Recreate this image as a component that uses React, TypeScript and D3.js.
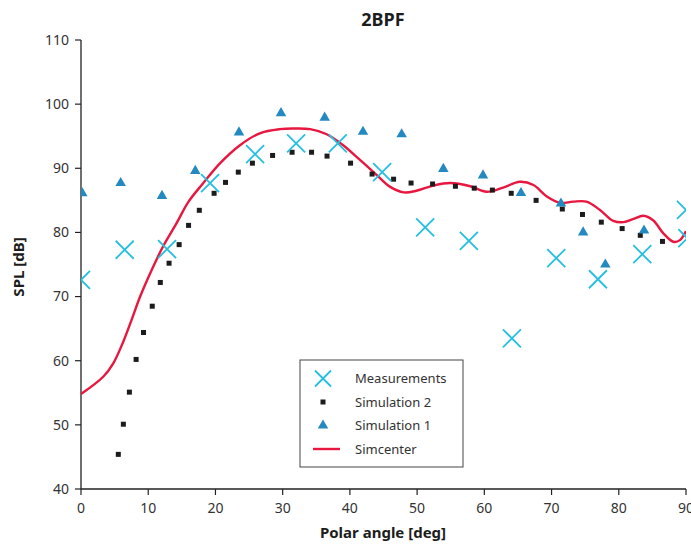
import React from "react";
import * as d3 from "d3";

const W = 691;
const H = 552;
const M = { left: 81, right: 5, top: 40, bottom: 63 };

const xTicks = [0, 10, 20, 30, 40, 50, 60, 70, 80, 90];
const yTicks = [40, 50, 60, 70, 80, 90, 100, 110];

const measAngle = [0, 6.5, 12.8, 19.2, 25.9, 32.0, 38.2, 44.8, 51.2, 57.7, 64.1, 70.7, 76.9, 83.5, 90.0, 90.2];
const measSPL = [72.6, 77.3, 77.4, 87.7, 92.2, 93.9, 93.9, 89.4, 80.8, 78.7, 63.5, 76.0, 72.7, 76.6, 83.5, 79.1];

const sim2Angle = [5.55, 6.3, 7.2, 8.2, 9.3, 10.6, 11.8, 13.1, 14.6, 16.0, 17.6, 19.8, 21.5, 23.4, 25.5, 28.5, 31.4, 34.3, 36.6, 40.1, 43.3, 46.5, 49.1, 52.3, 55.7, 58.5, 61.2, 64.0, 67.7, 71.6, 74.6, 77.4, 80.5, 83.2, 86.5];
const sim2SPL = [45.4, 50.1, 55.1, 60.2, 64.4, 68.5, 72.2, 75.2, 78.1, 81.1, 83.45, 86.1, 87.8, 89.4, 90.8, 92.0, 92.5, 92.5, 91.9, 90.8, 89.1, 88.3, 87.7, 87.55, 87.2, 86.9, 86.6, 86.1, 85.0, 83.65, 82.8, 81.6, 80.6, 79.55, 78.6];

const sim1Angle = [0.2, 5.9, 12.05, 17.0, 23.5, 29.75, 36.25, 41.95, 47.7, 53.9, 59.8, 65.45, 71.4, 74.7, 78.0, 83.75];
const sim1SPL = [86.1, 87.7, 85.7, 89.6, 95.6, 98.6, 97.9, 95.7, 95.3, 89.9, 88.9, 86.15, 84.5, 80.0, 75.0, 80.3];

const simcAngle = [0, 3.3, 4.8, 6.3, 7.5, 8.8, 10.5, 12.2, 14.2, 16.0, 18.2, 20.7, 23.65, 26.6, 29.6, 31.6, 34.1, 36.55, 39.0, 41.5, 44.0, 46.0, 48.0, 49.9, 52.4, 54.9, 57.9, 60.35, 62.8, 65.3, 67.3, 69.3, 71.3, 73.2, 75.2, 77.2, 79.2, 80.7, 82.2, 83.65, 85.1, 86.6, 88.1, 89.1, 90];
const simcSPL = [54.8, 57.5, 59.6, 63.0, 66.3, 70.0, 74.1, 77.8, 81.4, 84.8, 87.7, 90.8, 93.6, 95.45, 96.1, 96.2, 96.1, 95.3, 93.6, 91.3, 88.95, 87.1, 86.25, 86.5, 87.3, 87.7, 87.2, 86.35, 87.0, 87.9, 87.4, 85.6, 84.6, 84.8, 84.8, 83.5, 81.8, 81.6, 82.1, 82.6, 81.9, 79.9, 78.55, 78.8, 80.2];

const FONT = "'Noto Sans', 'Open Sans', sans-serif";
const CYAN = "#25bfe0";
const BLUE = "#2389c0";
const RED = "#e8173f";
const DARK = "#1c1c1c";
const AXIS = "#222";

export default function App() {
  const x = d3.scaleLinear().domain([0, 90]).range([M.left, W - M.right]);
  const y = d3.scaleLinear().domain([40, 110]).range([H - M.bottom, M.top]);

  const line = d3
    .line<number>()
    .x((_, i) => x(simcAngle[i]))
    .y((d) => y(d))
    .curve(d3.curveCatmullRom.alpha(0.5));

  const tri = d3.symbol().type(d3.symbolTriangle).size(48)();

  const crossPath = (s: number) => `M${-s},${-s}L${s},${s}M${-s},${s}L${s},${-s}`;

  const legendX = 300;
  const legendY = 360;
  const legendItems = ["Measurements", "Simulation 2", "Simulation 1", "Simcenter"];

  return (
    <svg width={W} height={H} style={{ display: "block", position: "absolute", left: 0, top: 0 }} fontFamily={FONT}>
      <defs>
        <clipPath id="plotclip">
          <rect x={M.left} y={M.top} width={W - M.left - M.right} height={H - M.top - M.bottom} />
        </clipPath>
      </defs>
      <rect width={W} height={H} fill="#fff" />
      <text x={383} y={26} textAnchor="middle" fontSize={18} fontWeight="bold" fill={DARK}>2BPF</text>

      {/* axes */}
      <line x1={M.left} x2={M.left} y1={M.top} y2={H - M.bottom} stroke={AXIS} strokeWidth={1.3} />
      <line x1={M.left} x2={W - M.right} y1={H - M.bottom} y2={H - M.bottom} stroke={AXIS} strokeWidth={1.3} />
      {yTicks.map((t) => (
        <g key={"y" + t}>
          <line x1={M.left - 6} x2={M.left} y1={y(t)} y2={y(t)} stroke={AXIS} strokeWidth={1.2} />
          <text x={M.left - 12} y={y(t)} dy="0.35em" textAnchor="end" fontSize={14} fill="#333">{t}</text>
        </g>
      ))}
      {xTicks.map((t) => (
        <g key={"x" + t}>
          <line x1={x(t)} x2={x(t)} y1={H - M.bottom} y2={H - M.bottom + 6} stroke={AXIS} strokeWidth={1.2} />
          <text x={x(t)} y={H - M.bottom + 24} textAnchor="middle" fontSize={14} fill="#333">{t}</text>
        </g>
      ))}
      <text x={383} y={538} textAnchor="middle" fontSize={15} fontWeight="bold" fill={DARK}>Polar angle [deg]</text>
      <text transform={`translate(24,${267}) rotate(-90)`} textAnchor="middle" fontSize={15} fontWeight="bold" fill={DARK}>SPL [dB]</text>

      <g clipPath="url(#plotclip)">
        <path d={line(simcSPL) || ""} fill="none" stroke={RED} strokeWidth={2.4} />
        {sim2SPL.map((v, i) => (
          <rect key={"s2" + i} x={x(sim2Angle[i]) - 2.5} y={y(v) - 2.5} width={5} height={5} fill={DARK} />
        ))}
        {sim1SPL.map((v, i) => (
          <path key={"s1" + i} d={tri || ""} transform={`translate(${x(sim1Angle[i])},${y(v)})`} fill={BLUE} />
        ))}
        {measSPL.map((v, i) => (
          <path key={"m" + i} d={crossPath(9)} transform={`translate(${x(measAngle[i])},${y(v)})`} stroke={CYAN} strokeWidth={1.8} fill="none" />
        ))}
      </g>

      {/* legend */}
      <rect x={legendX} y={legendY} width={163} height={107} fill="#fff" stroke="#444" strokeWidth={1} />
      {legendItems.map((name, i) => {
        const cy = 378.5 + i * 23.5;
        return (
          <g key={name}>
            {i === 0 && <path d={crossPath(8)} transform={`translate(323,${cy})`} stroke={CYAN} strokeWidth={1.8} fill="none" />}
            {i === 1 && <rect x={323 - 2.5} y={cy - 2.5} width={5} height={5} fill={DARK} />}
            {i === 2 && <path d={tri || ""} transform={`translate(323,${cy})`} fill={BLUE} />}
            {i === 3 && <line x1={313} x2={340} y1={cy} y2={cy} stroke={RED} strokeWidth={2.4} />}
            <text x={355} y={cy} dy="0.35em" fontSize={13} fill="#333">{name}</text>
          </g>
        );
      })}
    </svg>
  );
}
